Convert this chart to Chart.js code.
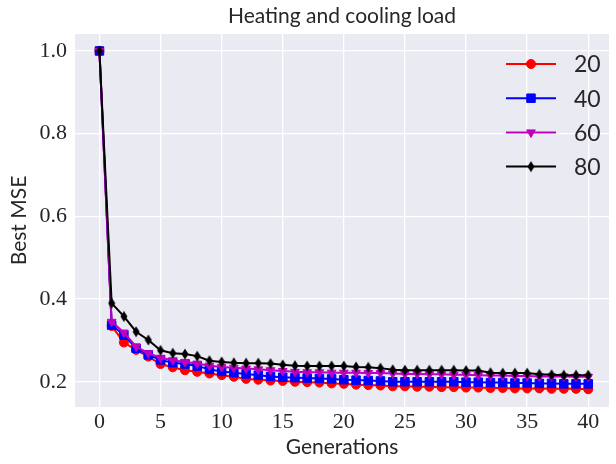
<!DOCTYPE html>
<html>
<head>
<meta charset="utf-8">
<script src="https://cdn.jsdelivr.net/npm/chart.js@4/dist/chart.umd.min.js"></script>
<style>
  html, body { margin: 0; padding: 0; background: #fff; }
  #wrap { width: 616px; height: 464px; }
</style>
</head>
<body>
<div id="wrap"><canvas id="chart" width="616" height="464"></canvas></div>
<script>
// data
const generations = [0, 1, 2, 3, 4, 5, 6, 7, 8, 9, 10, 11, 12, 13, 14, 15, 16, 17, 18, 19, 20,
  21, 22, 23, 24, 25, 26, 27, 28, 29, 30, 31, 32, 33, 34, 35, 36, 37, 38, 39, 40];

const mse20 = [1.0, 0.335, 0.295, 0.277, 0.261, 0.243, 0.235, 0.228, 0.224, 0.220, 0.216,
  0.212, 0.207, 0.205, 0.203, 0.202, 0.200, 0.199, 0.198, 0.196, 0.195,
  0.193, 0.192, 0.191, 0.189, 0.189, 0.188, 0.188, 0.187, 0.187, 0.186,
  0.186, 0.185, 0.185, 0.184, 0.184, 0.184, 0.183, 0.183, 0.183, 0.182];

const mse40 = [1.0, 0.337, 0.313, 0.281, 0.265, 0.253, 0.246, 0.243, 0.238, 0.230, 0.225,
  0.222, 0.219, 0.216, 0.213, 0.211, 0.210, 0.209, 0.208, 0.207, 0.205,
  0.204, 0.203, 0.202, 0.200, 0.200, 0.200, 0.200, 0.200, 0.200, 0.199,
  0.199, 0.198, 0.198, 0.197, 0.197, 0.196, 0.196, 0.195, 0.195, 0.195];

const mse60 = [1.0, 0.345, 0.319, 0.285, 0.269, 0.258, 0.252, 0.248, 0.244, 0.239, 0.236,
  0.234, 0.232, 0.230, 0.228, 0.226, 0.224, 0.223, 0.223, 0.222, 0.222,
  0.222, 0.221, 0.221, 0.220, 0.219, 0.219, 0.218, 0.218, 0.217, 0.217,
  0.216, 0.215, 0.215, 0.214, 0.214, 0.213, 0.213, 0.213, 0.212, 0.212];

const mse80 = [1.0, 0.390, 0.358, 0.321, 0.301, 0.276, 0.269, 0.267, 0.262, 0.251, 0.248,
  0.246, 0.245, 0.245, 0.244, 0.241, 0.239, 0.238, 0.238, 0.238, 0.238,
  0.236, 0.235, 0.233, 0.229, 0.228, 0.228, 0.228, 0.228, 0.228, 0.227,
  0.227, 0.222, 0.221, 0.221, 0.221, 0.218, 0.217, 0.216, 0.216, 0.216];

const seriesLabels = ['20', '40', '60', '80'];
const xTicks = [0, 5, 10, 15, 20, 25, 30, 35, 40];
const yTicks = [0.2, 0.4, 0.6, 0.8, 1.0];

const TEXT = '#262626';
const SANS = 'Lato, "Open Sans", sans-serif';
const SERIF = '"Liberation Serif", "DejaVu Serif", serif';

// matplotlib style thin diamond
const thinDiamond = ( color ) => {
  const c = document.createElement( 'canvas' );
  c.width = 8;
  c.height = 12;
  const g = c.getContext( '2d' );
  g.fillStyle = color;
  g.beginPath();
  g.moveTo( 4, 0.5 );
  g.lineTo( 7.5, 6 );
  g.lineTo( 4, 11.5 );
  g.lineTo( 0.5, 6 );
  g.closePath();
  g.fill();
  return c;
};

const styles = [
  { color: '#ff0000', pointStyle: 'circle', radius: 4.5, rotation: 0 },
  { color: '#0000ff', pointStyle: 'rect', radius: 6, rotation: 0 },
  { color: '#bf00bf', pointStyle: 'triangle', radius: 5, rotation: 180 },
  { color: '#000000', pointStyle: thinDiamond( '#000000' ), radius: 6, rotation: 0 },
];

const seriesValues = [ mse20, mse40, mse60, mse80 ];

const datasets = seriesValues.map( ( vals, k ) => ( {
  label: seriesLabels[k],
  data: generations.map( ( g, i ) => ( { x: g, y: vals[i] } ) ),
  borderColor: styles[k].color,
  backgroundColor: styles[k].color,
  borderWidth: 2,
  pointStyle: styles[k].pointStyle,
  pointRadius: styles[k].radius,
  pointRotation: styles[k].rotation,
  pointBorderWidth: 1,
  pointBorderColor: styles[k].color,
  pointBackgroundColor: styles[k].color,
  order: 4 - k,
  tension: 0,
} ) );

const decor = {
  id: 'decor',
  beforeDraw( chart ) {
    const { ctx, chartArea: a } = chart;
    ctx.save();
    ctx.fillStyle = '#ffffff';
    ctx.fillRect( 0, 0, chart.width, chart.height );
    ctx.fillStyle = '#eaeaf2';
    ctx.fillRect( a.left, a.top, a.right - a.left, a.bottom - a.top );
    ctx.restore();
  },
  afterDraw( chart ) {
    const { ctx, chartArea: a } = chart;
    ctx.save();
    ctx.fillStyle = TEXT;
    ctx.textAlign = 'center';
    ctx.textBaseline = 'middle';
    ctx.font = '21px ' + SANS;
    ctx.fillText( 'Heating and cooling load', ( a.left + a.right ) / 2, 16 );
    ctx.fillText( 'Generations', ( a.left + a.right ) / 2, 447 );
    ctx.save();
    ctx.translate( 19, ( a.top + a.bottom ) / 2 );
    ctx.rotate( -Math.PI / 2 );
    ctx.fillText( 'Best MSE', 0, 0 );
    ctx.restore();

    // legend: line with marker through it
    styles.forEach( ( s, k ) => {
      const y = 64 + k * 34.2;
      ctx.strokeStyle = s.color;
      ctx.lineWidth = 2;
      ctx.beginPath();
      ctx.moveTo( 506, y );
      ctx.lineTo( 556, y );
      ctx.stroke();
      ctx.fillStyle = s.color;
      ctx.lineWidth = 1;
      Chart.helpers.drawPoint( ctx, {
        pointStyle: s.pointStyle,
        radius: s.radius,
        rotation: s.rotation,
        borderWidth: 1,
      }, 531, y );
      ctx.fillStyle = TEXT;
      ctx.textAlign = 'left';
      ctx.font = '23px ' + SANS;
      ctx.fillText( seriesLabels[k], 574, y + 1 );
    } );
    ctx.restore();
  }
};

new Chart( document.getElementById( 'chart' ).getContext( '2d' ), {
  type: 'line',
  data: { datasets: datasets },
  plugins: [ decor ],
  options: {
    responsive: false,
    animation: false,
    devicePixelRatio: 1,
    layout: { padding: { top: 34, right: 0, left: 0, bottom: 0 } },
    plugins: {
      legend: { display: false },
      tooltip: { enabled: false },
      title: { display: false },
    },
    scales: {
      x: {
        type: 'linear',
        min: -2,
        max: 41.7,
        afterFit: ( s ) => { s.height = 57; },
        afterBuildTicks: ( s ) => { s.ticks = xTicks.map( v => ( { value: v } ) ); },
        border: { display: false },
        grid: { color: '#ffffff', lineWidth: 1.3, drawTicks: false },
        ticks: {
          color: TEXT,
          font: { family: SERIF, size: 22 },
          padding: 2,
          maxRotation: 0,
          callback: ( v ) => String( v ),
        },
      },
      y: {
        type: 'linear',
        min: 0.139,
        max: 1.041,
        afterFit: ( s ) => { s.width = 75; },
        afterBuildTicks: ( s ) => { s.ticks = yTicks.map( v => ( { value: v } ) ); },
        border: { display: false },
        grid: { color: '#ffffff', lineWidth: 1.3, drawTicks: false },
        ticks: {
          color: TEXT,
          font: { family: SERIF, size: 22 },
          padding: 8,
          callback: ( v ) => Number( v ).toFixed( 1 ),
        },
      },
    },
  },
} );
</script>
</body>
</html>
